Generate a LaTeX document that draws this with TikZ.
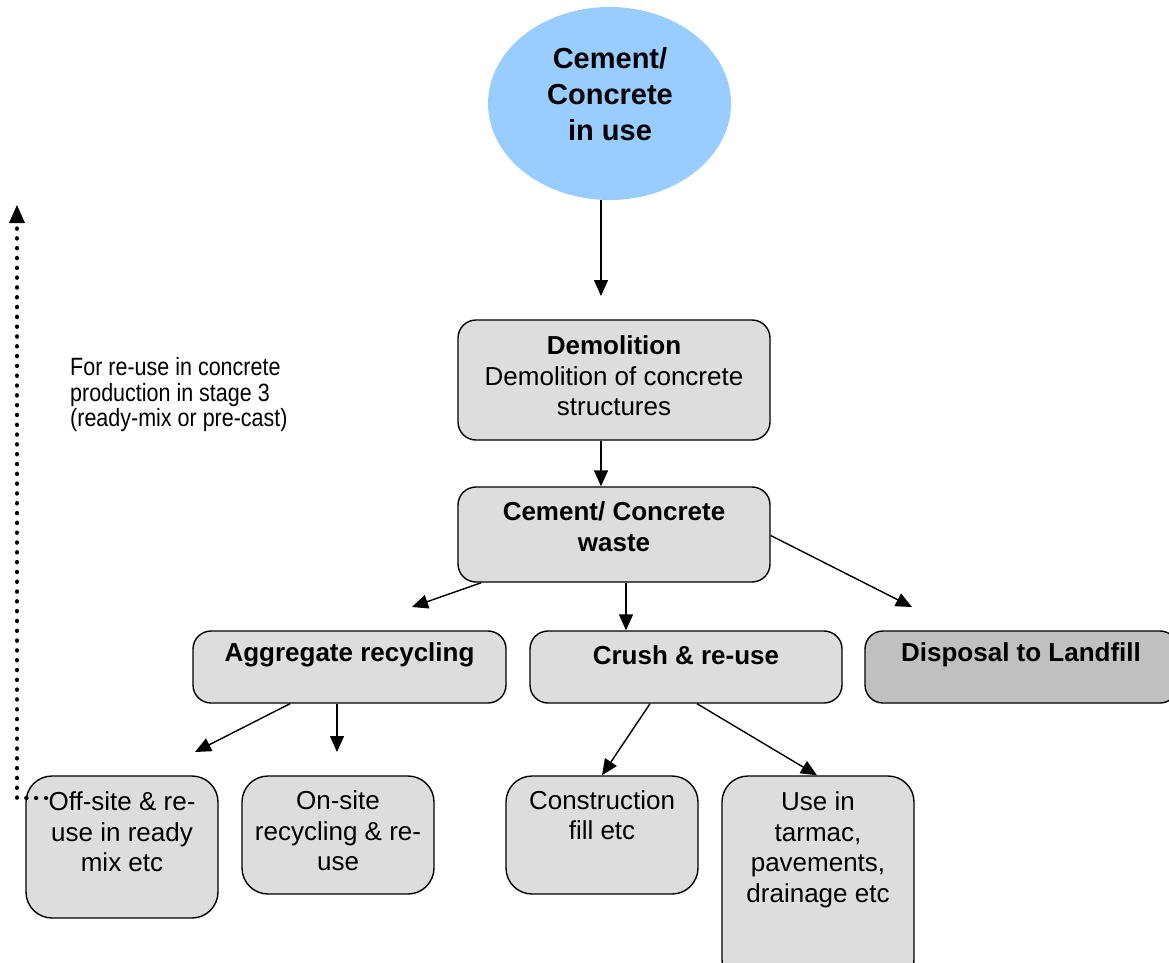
\documentclass[tikz,border=0pt]{standalone}
\usepackage{fontspec}
\setmainfont{Liberation Sans}
\newfontfamily\narrowfont[FakeStretch=0.86]{Liberation Sans}
\usetikzlibrary{arrows.meta,calc,shapes.geometric}
\definecolor{boxgray}{RGB}{221,221,221}
\definecolor{darkgray}{RGB}{192,192,192}
\definecolor{ellblue}{RGB}{153,204,255}
\begin{document}
\begin{tikzpicture}[x=1pt,y=-1pt,
  box/.style={draw=black, line width=1.4pt, rounded corners=18pt, fill=boxgray, inner sep=0pt},
  lowbox/.style={box, rounded corners=26pt, minimum width=192pt},
  txt/.style={font=\fontsize{26}{30.5}\selectfont, align=center, inner sep=0pt},
  btxt/.style={txt, font=\fontsize{26}{31}\selectfont\bfseries},
  arr/.style={line width=1.4pt, -{Triangle[length=16pt,width=14pt]}},
  dotarr/.style={line width=4.5pt, dash pattern=on 0.01pt off 9.8pt, line cap=round,
    -{Triangle[length=18pt,width=16pt,line width=0pt,round=false]}}
]
\useasboundingbox (0,0) rectangle (1169,963);
\clip (0,0) rectangle (1169,963);

% ellipse
\node[ellipse, fill=ellblue, minimum width=243pt, minimum height=193pt, inner sep=0pt] (ell) at (609.5,103.5) {};
\node[txt, font=\fontsize{29}{36}\selectfont\bfseries] (ellt) at (610,94) {Cement/\\Concrete\\in use};

% main boxes
\node[box, minimum width=312pt, minimum height=120pt] (dem) at (614,380) {};
\node[txt] (demt) at (614,376) {\textbf{Demolition}\\Demolition of concrete\\structures};

\node[box, minimum width=312pt, minimum height=95pt] (waste) at (614,534.5) {};
\node[btxt] (wastet) at (614,527) {Cement/ Concrete\\waste};

\node[box, minimum width=313pt, minimum height=72pt] (agg) at (349.5,667) {};
\node[btxt] (aggt) at (349.5,655) {Aggregate recycling};

\node[box, minimum width=312pt, minimum height=72pt] (crush) at (686,667) {};
\node[btxt] (crusht) at (686,655) {Crush \& re-use};

\node[box, fill=darkgray, minimum width=313pt, minimum height=72pt] (disp) at (1021.5,667) {};
\node[btxt] (dispt) at (1021,655) {Disposal to Landfill};

% lower boxes
\node[lowbox, minimum height=142pt] (off) at (122,847) {};
\node[txt] (offt) at (122,832) {Off-site \& re-\\use in ready\\mix etc};

\node[lowbox, minimum height=118pt] (on) at (338,835) {};
\node[txt] (ont) at (338,831) {On-site\\recycling \& re-\\use};

\node[lowbox, minimum height=118pt] (cons) at (602,835) {};
\node[txt] (const) at (602,815) {Construction\\fill etc};

\node[lowbox, minimum height=210pt] (tar) at (818,881) {};
\node[txt] (tart) at (818,850) {Use in\\tarmac,\\pavements,\\drainage etc};

% side label
\node[inner sep=0pt, anchor=west, align=left, font=\narrowfont\fontsize{25}{25.5}\selectfont] (side) at (70,395)
  {For re-use in concrete\\production in stage 3\\(ready-mix or pre-cast)};

% arrow tip coordinates
\coordinate (t1) at (601,296);
\coordinate (t2) at (412,607);
\coordinate (t3) at (912,607);
\coordinate (t4) at (195,752);
\coordinate (t5) at (337,752);
\coordinate (up) at (17,205);
\coordinate (corner) at (17,798);
\coordinate (dstart) at (46,798);

% connectors
\draw[arr] ($(ell.south)+(-8.5,0)$) -- (t1);
\draw[arr] ($(dem.south)+(-13,0)$) -- ($(waste.north)+(-13,0)$);
\draw[arr] ($(waste.south west)+(24,0)$) -- (t2);
\draw[arr] ($(waste.south)+(12,0)$) -- ($(crush.north)+(-60,0)$);
\draw[arr] ($(waste.east)+(0,1)$) -- (t3);
\draw[arr] ($(agg.south)+(-59.5,0)$) -- (t4);
\draw[arr] ($(agg.south)+(-12.5,0)$) -- (t5);
\draw[arr] ($(crush.south)+(-36,0)$) -- (cons.north);
\draw[arr] ($(crush.south)+(11,0)$) -- ($(tar.north)+(-1,0)$);
\draw[dotarr] (dstart) -- (corner) -- (up);
\end{tikzpicture}
\end{document}
